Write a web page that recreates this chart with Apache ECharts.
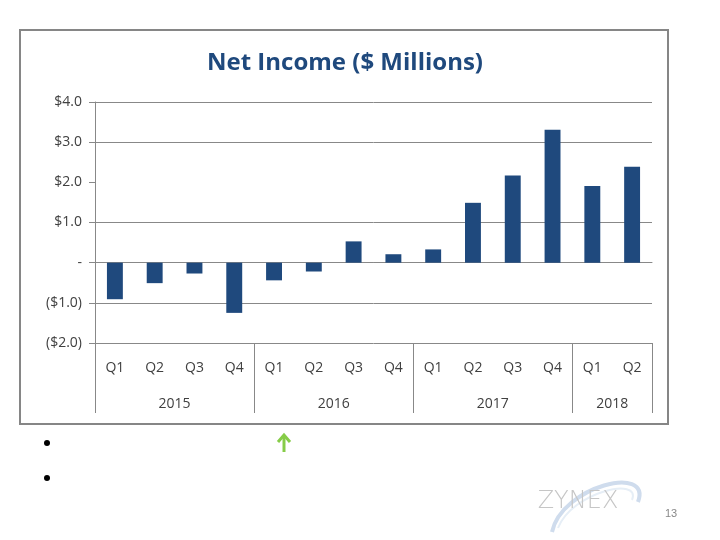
<!DOCTYPE html>
<html>
<head>
<meta charset="utf-8">
<script src="https://cdn.jsdelivr.net/npm/echarts@6/dist/echarts.min.js"></script>
<style>
html, body { margin: 0; padding: 0; background: #fff; }
#main { width: 720px; height: 540px; }
</style>
</head>
<body>
<div id="main"></div>
<script>
// data
var quarters = ['Q1','Q2','Q3','Q4','Q1','Q2','Q3','Q4','Q1','Q2','Q3','Q4','Q1','Q2'];
var yearSlots = ['','','2015','','','','2016','','','','2017','','','2018',''];
var yearEdges = [0, 4, 8, 12, 14];
var netIncome = [-0.91, -0.51, -0.27, -1.25, -0.44, -0.22, 0.53, 0.21, 0.33, 1.49, 2.17, 3.31, 1.91, 2.39];
var gridValues = [-2, -1, 0, 1, 3, 4];   // the $2.0 line is not drawn on the slide
var hiddenTicks = [9, 10];

var gray = '#888888';
var txt = '#404040';

var myChart = echarts.init(document.getElementById('main'));

function money(v) {
    if (v === 0) return '-';
    var s = '$' + Math.abs(v).toFixed(1);
    return v < 0 ? '(' + s + ')' : s;
}

var option = {
    animation: false,
    grid: { left: 95, right: 68, top: 102, bottom: 197 },
    yAxis: {
        type: 'value',
        min: -2, max: 4, interval: 1,
        axisLine: { show: true, lineStyle: { color: gray } },
        axisTick: { show: true, length: 6, lineStyle: { color: gray } },
        axisLabel: { formatter: money, color: txt, fontSize: 14, margin: 13, fontFamily: 'Open Sans' },
        splitLine: { show: false }
    },
    xAxis: [
        {
            type: 'category',
            data: quarters,
            axisLine: { onZero: true, lineStyle: { color: gray } },
            axisTick: { length: 5, lineStyle: { color: gray },
                interval: function (i) { return hiddenTicks.indexOf(i) < 0; } },
            axisLabel: { show: false }
        },
        {
            type: 'category',
            data: quarters,
            position: 'bottom',
            axisLine: { show: false, onZero: false },
            axisTick: { length: 36, lineStyle: { color: gray },
                interval: function (i) { return hiddenTicks.indexOf(i) < 0; } },
            axisLabel: { color: txt, fontSize: 14, margin: 18, interval: 0, fontFamily: 'Open Sans' }
        },
        {
            type: 'category',
            data: yearSlots,
            boundaryGap: false,
            position: 'bottom',
            axisLine: { show: false, onZero: false },
            axisTick: { length: 70, lineStyle: { color: gray },
                interval: function (i) { return yearEdges.indexOf(i) >= 0; } },
            axisLabel: { color: txt, fontSize: 14, margin: 54, fontFamily: 'Open Sans',
                interval: function (i, v) { return v !== ''; } }
        }
    ],
    series: [
        {
            type: 'bar',
            xAxisIndex: 0,
            data: netIncome,
            barWidth: '40%',
            itemStyle: { color: '#1F497D' },
            z: 3,
            markLine: {
                silent: true,
                symbol: 'none',
                label: { show: false },
                lineStyle: { color: gray, type: 'solid', width: 1 },
                z: 1,
                data: gridValues.map(function (v) { return { yAxis: v }; })
            }
        }
    ],
    graphic: [
        { type: 'rect', shape: { x: 20, y: 30, width: 648, height: 394 },
          style: { fill: 'none', stroke: '#868686', lineWidth: 2 } },
        { type: 'text', x: 345, y: 63, style: { text: 'Net Income ($ Millions)', fill: '#1F497D',
          fontSize: 24, fontWeight: 'bold', fontFamily: 'Open Sans', align: 'center', verticalAlign: 'middle' } },
        { type: 'circle', shape: { cx: 47, cy: 443, r: 3 }, style: { fill: '#000' } },
        { type: 'circle', shape: { cx: 47, cy: 478, r: 3 }, style: { fill: '#000' } },
        // green up arrow
        { type: 'polyline', shape: { points: [[284, 452], [284, 436]] },
          style: { stroke: '#86CC48', lineWidth: 3 } },
        { type: 'polyline', shape: { points: [[278, 442], [284, 435], [290, 442]] },
          style: { stroke: '#86CC48', lineWidth: 3, fill: 'none' } },
        // logo swoosh and wordmark
        { type: 'bezierCurve', shape: { x1: 552, y1: 532, cpx1: 562, cpy1: 486, cpx2: 652, cpy2: 464, x2: 638, y2: 502 },
          style: { stroke: '#cfdced', lineWidth: 4, fill: 'none' } },
        { type: 'bezierCurve', shape: { x1: 558, y1: 528, cpx1: 572, cpy1: 492, cpx2: 642, cpy2: 476, x2: 632, y2: 500 },
          style: { stroke: '#e6eef6', lineWidth: 2, fill: 'none' } },
        { type: 'text', x: 578, y: 502, style: { text: 'ZYNEX', fill: '#c6c6c6', fontSize: 24,
          align: 'center', verticalAlign: 'middle', fontFamily: 'DejaVu Sans', fontWeight: 200 } },
        { type: 'text', x: 671, y: 514, style: { text: '13', fill: '#888888', fontSize: 11,
          align: 'center', verticalAlign: 'middle', fontFamily: 'Liberation Sans' } }
    ]
};

myChart.setOption(option);
</script>
</body>
</html>
